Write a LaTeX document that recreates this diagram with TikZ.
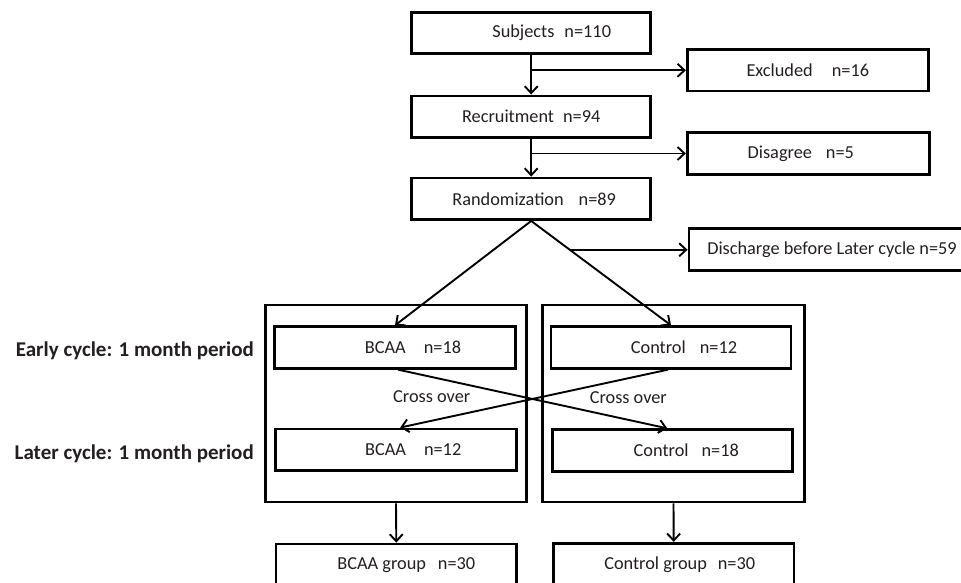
\documentclass[tikz,border=0pt]{standalone}
\usepackage{fontspec}
\setmainfont{Carlito}
\usetikzlibrary{arrows.meta,calc}
\definecolor{txt}{RGB}{35,31,32}
\begin{document}
\begin{tikzpicture}[x=1pt,y=-1pt,
  box/.style={draw, line width=2.8pt, minimum height=41.5pt, inner sep=0pt,
    font=\fontsize{18.3}{22}\selectfont, text=txt},
  frame/.style={draw, line width=2.8pt, inner sep=0pt},
  lbl/.style={font=\fontsize{18.3}{22}\selectfont, text=txt, inner sep=0pt},
  side/.style={font=\bfseries\fontsize{21}{25}\selectfont, text=txt, inner sep=0pt, anchor=east},
  conn/.style={line width=1.9pt, -{Straight Barb[length=7pt,width=13pt]}},
  plainline/.style={line width=1.9pt}]
\useasboundingbox (0,0) rectangle (961,583);
\clip (0,0) rectangle (961,583);

% main column
\node[box, minimum width=239pt] (subj) at (531.2,33) {\hspace*{41pt}Subjects\hspace{10pt}n=110};
\node[box, minimum width=239pt] (recr) at (531.2,116.7) {Recruitment\hspace{9pt}n=94};
\node[box, minimum width=239pt] (rand) at (531.2,198.8) {\hspace*{6pt}Randomization\hspace{15pt}n=89};

% side boxes
\node[box, minimum width=241pt] (excl) at (807.8,70.3) {Excluded\hspace{19pt}n=16};
\node[box, minimum width=242pt] (disag) at (808.3,153.5) {Disagree\hspace{14pt}n=5\hspace*{15pt}};
\node[box, minimum width=279pt] (disch) at (828.5,249.5) {\hspace*{7pt}Discharge before Later cycle n=59};

% outer frames
\node[frame, minimum width=261pt, minimum height=197pt] (lframe) at (396,403.5) {};
\node[frame, minimum width=261.5pt, minimum height=197pt] (rframe) at (673.5,403.5) {};

% inner boxes
\node[box, minimum width=241.4pt] (b18) at (395,347.5) {\hspace*{36pt}BCAA\hspace{18pt}n=18};
\node[box, minimum width=240pt] (c12) at (671,347.5) {\hspace*{26pt}Control\hspace{14pt}n=12};
\node[box, minimum width=241pt] (b12) at (396.2,449.7) {\hspace*{34pt}BCAA\hspace{18pt}n=12};
\node[box, minimum width=240pt] (c18) at (672.3,450.5) {\hspace*{28pt}Control\hspace{13pt}n=18};

% result boxes
\node[box, minimum width=240.7pt, minimum height=42pt] (bg) at (396.3,565) {\hspace*{20pt}BCAA group\hspace{12pt}n=30};
\node[box, minimum width=240.7pt, minimum height=42pt] (cg) at (673.7,564.3) {\hspace*{12pt}Control group\hspace{11pt}n=30};

% side labels
\node[side] (early) at (254,350.7) {Early cycle: 1 month period};
\node[side] (later) at (254,454) {Later cycle: 1 month period};

% cross over labels
\node[lbl] (cxl) at (431.7,396.7) {Cross over};
\node[lbl] (cxr) at (628.3,397.3) {Cross over};

% connectors
\draw[conn] (subj.south) -- (recr.north);
\draw[conn] (subj.south |- excl.west) -- (excl.west);
\draw[conn] (recr.south) -- (rand.north);
\draw[conn] (recr.south |- disag.west) -- (disag.west);
\draw[conn] (rand.south) -- (b18.north);
\draw[conn] (rand.south) -- (c12.north);
\coordinate (dstart) at ($(rand.south)!0.276!(c12.north)$);
\draw[conn] (dstart) -- (dstart -| disch.west);
\draw[conn] ([xshift=3pt]b18.south) -- ([xshift=-5pt]c18.north);
\draw[conn] ([xshift=-3pt]c12.south) -- ([xshift=4pt]b12.north);
\draw[conn] (lframe.south) -- (bg.north);
\draw[conn] (rframe.south) -- (cg.north);
\end{tikzpicture}
\end{document}
